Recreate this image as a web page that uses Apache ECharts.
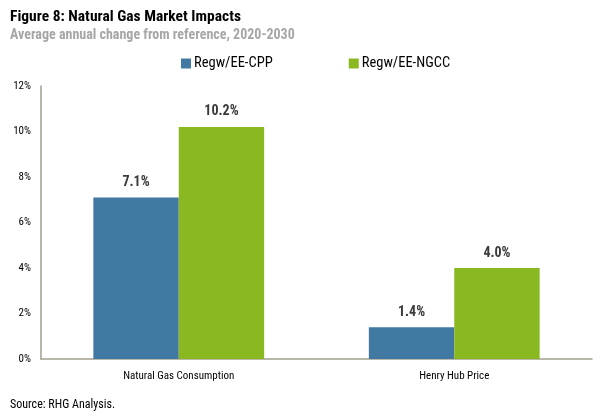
<!DOCTYPE html>
<html><head><meta charset="utf-8">
<script src="https://cdn.jsdelivr.net/npm/echarts@6/dist/echarts.min.js"></script>
<style>html,body{margin:0;padding:0;background:#fff}#c{width:604px;height:417px}</style>
</head><body><div id="c"></div>
<script>
const categories = ['Natural Gas Consumption', 'Henry Hub Price'];
const seriesNames = ['Regw/EE-CPP', 'Regw/EE-NGCC'];
const cppValues = [7.1, 1.4];
const ngccValues = [10.2, 4.0];
const yMin = 0, yMax = 12, yStep = 2;

const FONT = '"Liberation Sans Narrow", "Roboto Condensed", "DejaVu Sans Condensed", sans-serif';
const chart = echarts.init(document.getElementById('c'));
const lbl = {
  show: true, position: 'top', distance: 8,
  formatter: p => p.value.toFixed(1) + '%',
  fontFamily: FONT, fontWeight: 'bold', fontSize: 14, color: '#3a3a3a'
};
chart.setOption({
  animation: false,
  textStyle: { fontFamily: FONT },
  title: [
    { text: 'Figure 8: Natural Gas Market Impacts', left: 5, top: 4,
      textStyle: { fontFamily: FONT, fontWeight: 'bold', fontSize: 15.5, color: '#000' } },
    { text: 'Average annual change from reference, 2020-2030', left: 5, top: 23,
      textStyle: { fontFamily: FONT, fontWeight: 'bold', fontSize: 14, color: '#a6a6a6' } },
    { text: 'Source: RHG Analysis.', left: 5, top: 394,
      textStyle: { fontFamily: FONT, fontWeight: 'normal', fontSize: 12, color: '#000' } }
  ],
  legend: {
    data: seriesNames, top: 51, left: 176, itemGap: 76,
    itemWidth: 10, itemHeight: 10, icon: 'rect',
    textStyle: { fontFamily: FONT, fontSize: 14.5, color: '#000', padding: [0,0,0,-2] }
  },
  grid: { left: 41, right: 12, top: 86, bottom: 58 },
  xAxis: {
    type: 'category', data: categories,
    axisLine: { lineStyle: { color: '#a39e8e', width: 1.5 } },
    axisTick: { show: false },
    axisLabel: { fontFamily: FONT, fontSize: 11, color: '#000', margin: 12 }
  },
  yAxis: {
    type: 'value', min: yMin, max: yMax, interval: yStep,
    axisLine: { show: true, lineStyle: { color: '#a39e8e', width: 1.5 } },
    axisTick: { show: false },
    splitLine: { show: false },
    axisLabel: { fontFamily: FONT, fontSize: 11, color: '#000', margin: 10, formatter: '{value}%' }
  },
  series: [
    { name: seriesNames[0], type: 'bar', data: cppValues, barGap: '0%', barCategoryGap: '38%',
      itemStyle: { color: '#4279a3' }, label: lbl },
    { name: seriesNames[1], type: 'bar', data: ngccValues,
      itemStyle: { color: '#8ab820' }, label: lbl }
  ]
});
</script></body></html>
